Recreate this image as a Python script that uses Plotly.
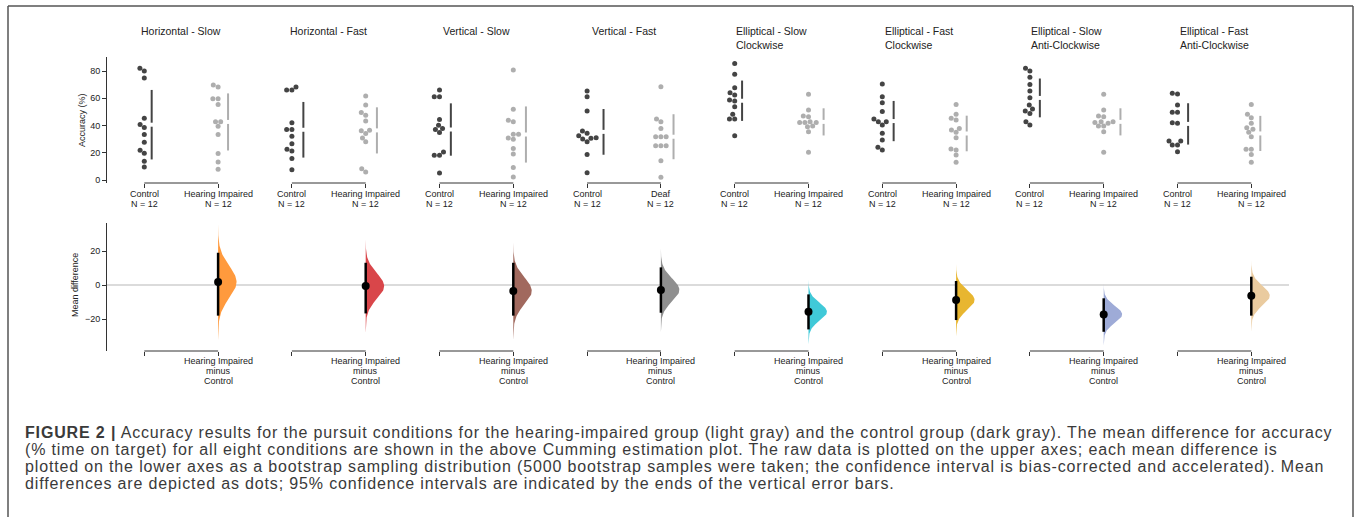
import numpy as np
import plotly.graph_objects as go

W, H = 1357, 527

# ---------------- data ----------------
conditions = ["Horizontal - Slow", "Horizontal - Fast", "Vertical - Slow", "Vertical - Fast",
              "Elliptical - Slow<br>Clockwise", "Elliptical - Fast<br>Clockwise",
              "Elliptical - Slow<br>Anti-Clockwise", "Elliptical - Fast<br>Anti-Clockwise"]
control_names = ["Control"] * 8
test_names = ["Hearing Impaired", "Hearing Impaired", "Hearing Impaired", "Deaf",
              "Hearing Impaired", "Hearing Impaired", "Hearing Impaired", "Hearing Impaired"]
contrast_names = ["Hearing Impaired"] * 8
n_control = [12] * 8
n_test = [12] * 8

control_hs = [82.0, 80.0, 74.8, 45.4, 40.7, 38.5, 33.4, 27.7, 21.8, 19.6, 13.7, 9.6]
impaired_hs = [69.7, 68.2, 59.6, 59.6, 55.5, 42.7, 42.7, 39.5, 33.4, 19.4, 13.3, 7.9]
control_hf = [68.3, 66.0, 66.0, 42.0, 37.1, 37.1, 32.1, 26.7, 22.6, 21.3, 15.7, 7.6]
impaired_hf = [61.6, 55.0, 49.6, 47.6, 43.4, 36.6, 36.1, 34.1, 30.9, 28.0, 8.3, 5.9]
control_vs = [66.0, 61.1, 61.1, 44.4, 40.2, 37.8, 37.1, 34.8, 20.6, 18.2, 18.2, 5.2]
impaired_vs = [80.7, 52.0, 43.9, 42.7, 33.6, 33.6, 30.9, 29.9, 23.1, 19.1, 9.1, 2.2]
control_vf = [65.3, 61.2, 50.6, 36.0, 34.3, 32.5, 31.1, 30.6, 30.1, 28.1, 18.8, 5.4]
deaf_vf = [68.5, 44.8, 42.8, 37.9, 31.8, 31.8, 31.8, 25.2, 25.2, 25.2, 14.2, 2.0]
control_esc = [85.6, 77.6, 67.8, 64.1, 62.4, 58.7, 58.0, 53.8, 48.2, 44.8, 44.8, 32.5]
impaired_esc = [62.9, 51.4, 47.0, 46.5, 42.8, 42.3, 42.3, 42.3, 39.6, 39.1, 35.5, 20.3]
control_efc = [70.5, 61.2, 56.8, 50.2, 44.8, 42.8, 42.8, 40.4, 34.3, 29.4, 24.0, 22.0]
impaired_efc = [55.5, 48.2, 45.3, 44.0, 37.9, 36.7, 35.0, 31.1, 22.8, 22.0, 18.3, 13.0]
control_esac = [82.0, 80.0, 75.4, 70.2, 65.3, 60.4, 55.0, 52.1, 50.6, 48.9, 42.8, 40.4]
impaired_esac = [62.9, 51.4, 47.0, 46.5, 42.8, 42.8, 42.3, 41.6, 39.6, 39.6, 35.5, 20.3]
control_efac = [63.6, 63.1, 55.0, 49.7, 49.7, 42.1, 41.6, 28.6, 28.6, 25.7, 25.7, 20.8]
impaired_efac = [55.5, 48.2, 45.7, 41.6, 38.4, 37.2, 35.0, 31.8, 22.5, 22.5, 18.8, 13.0]

mean_diff = [1.8, -0.6, -3.5, -2.9, -15.7, -8.8, -17.3, -6.3]
ci_low = [-18.0, -16.7, -18.0, -16.3, -26.1, -20.6, -27.5, -18.0]
ci_high = [19.0, 13.1, 13.1, 10.4, -5.5, 2.4, -7.8, 4.9]

top_yticks = [0, 20, 40, 60, 80]
bottom_yticks = [-20, 0, 20]

violin_colors = ["#FF9A3D", "#D9464A", "#A1695E", "#8F8F8F",
                 "#40C9D8", "#E8B630", "#9EABD7", "#EACB9F"]
control_color = "#444444"
test_color = "#AEAEAE"
axis_color = "#333333"
text_color = "#222222"
font_family = "Liberation Sans, Arial, sans-serif"

caption_lines = [
    "<b>FIGURE 2 |</b> Accuracy results for the pursuit conditions for the hearing-impaired group (light gray) and the control group (dark gray). The mean difference for accuracy",
    "(% time on target) for all eight conditions are shown in the above Cumming estimation plot. The raw data is plotted on the upper axes; each mean difference is",
    "plotted on the lower axes as a bootstrap sampling distribution (5000 bootstrap samples were taken; the confidence interval is bias-corrected and accelerated). Mean",
    "differences are depicted as dots; 95% confidence intervals are indicated by the ends of the vertical error bars.",
]

controls = [control_hs, control_hf, control_vs, control_vf, control_esc, control_efc, control_esac, control_efac]
tests = [impaired_hs, impaired_hf, impaired_vs, deaf_vf, impaired_esc, impaired_efc, impaired_esac, impaired_efac]

# ---------------- geometry ----------------
X0_PX = 144.3          # pixel position of x = 0
UNIT_PX = 73.8         # pixels per x unit
AX_LEFT, AX_RIGHT = 107, 1289
TOP_T, TOP_B = 57, 183
BOT_T, BOT_B = 223, 351
top_range = [-2.2, 90.3]
bot_range = [-38.8, 36.5]
x_range = [(AX_LEFT - X0_PX) / UNIT_PX, (AX_RIGHT - X0_PX) / UNIT_PX]
PXY_TOP = (TOP_B - TOP_T) / (top_range[1] - top_range[0])


def fx(px):
    return px / W


def fy(py):
    return 1 - py / H


def swarm_x(values, d=5.0):
    vals = np.asarray(values, float)
    order = np.argsort(vals, kind="stable")
    ys = vals * PXY_TOP
    placed = []
    xs = np.zeros(len(vals))
    for idx in order:
        y = ys[idx]
        neigh = [(px, py) for px, py in placed if abs(py - y) < d]
        cands = [0.0]
        for px, py in neigh:
            dx = np.sqrt(max(d * d - (y - py) ** 2, 0.0)) * 1.05
            cands += [px - dx, px + dx]
        cands.sort(key=abs)
        chosen = cands[0]
        for c in cands:
            if all((c - px) ** 2 + (y - py) ** 2 >= d * d * 0.999 for px, py in neigh):
                chosen = c
                break
        placed.append((chosen, y))
        xs[idx] = chosen
    return xs / UNIT_PX


fig = go.Figure()
annotations = []
small = dict(size=9, color=text_color, family=font_family)


def add_label_lines(lines, xval, xref, y_px_list):
    for txt, ypx in zip(lines, y_px_list):
        annotations.append(dict(text=txt, x=xval, xref=xref, y=fy(ypx), yref="paper",
                                xanchor="center", yanchor="middle", showarrow=False, font=small))


# ---------------- upper axes: raw data ----------------
tickvals_top = []
for i in range(8):
    for j, (vals, col, name, n) in enumerate([(controls[i], control_color, control_names[i], n_control[i]),
                                              (tests[i], test_color, test_names[i], n_test[i])]):
        pos = 2 * i + j
        offs = swarm_x(vals)
        fig.add_trace(go.Scatter(x=pos + offs, y=vals, mode="markers", xaxis="x", yaxis="y",
                                 marker=dict(size=5, color=col), showlegend=False, hoverinfo="y"))
        m = float(np.mean(vals))
        sd = float(np.std(vals, ddof=1))
        gap = 2.0 / PXY_TOP
        lx = pos + offs.max() + 0.1
        fig.add_trace(go.Scatter(x=[lx, lx, None, lx, lx], y=[m - sd, m - gap, None, m + gap, m + sd],
                                 mode="lines", line=dict(color=col, width=2), xaxis="x", yaxis="y",
                                 showlegend=False, hoverinfo="skip"))
        tickvals_top.append(pos)
        add_label_lines([name, f"N = {n}"], pos, "x", [194, 204])

# ---------------- lower axes: mean differences ----------------
tickvals_bot = []
for i in range(8):
    pos = 2 * i + 1
    mu = mean_diff[i]
    sigma = (ci_high[i] - ci_low[i]) / 3.92
    yy = np.linspace(mu - 3.6 * sigma, mu + 3.6 * sigma, 121)
    ww = 0.25 * np.exp(-0.5 * ((yy - mu) / sigma) ** 2)
    vx = np.concatenate([pos + ww, [pos, pos]])
    vy = np.concatenate([yy, [yy[-1], yy[0]]])
    fig.add_trace(go.Scatter(x=vx, y=vy, mode="lines", fill="toself", fillcolor=violin_colors[i],
                             line=dict(width=0, color=violin_colors[i]), xaxis="x2", yaxis="y2",
                             showlegend=False, hoverinfo="skip"))
    fig.add_trace(go.Scatter(x=[pos, pos], y=[ci_low[i], ci_high[i]], mode="lines",
                             line=dict(color="black", width=2.5), xaxis="x2", yaxis="y2",
                             showlegend=False, hoverinfo="skip"))
    fig.add_trace(go.Scatter(x=[pos], y=[mu], mode="markers", marker=dict(size=8, color="black"),
                             xaxis="x2", yaxis="y2", showlegend=False, hoverinfo="y"))
    tickvals_bot += [pos - 1, pos]
    add_label_lines([contrast_names[i], "minus", control_names[i]], pos, "x2", [361, 371, 381])

shapes = []
shapes.append(dict(type="line", xref="x2 domain", yref="y2", x0=0, x1=1, y0=0, y1=0,
                   line=dict(color="#CFCFCF", width=1.5), layer="below"))
for i in range(8):
    for xr, yr in [("x", "y domain"), ("x2", "y2 domain")]:
        shapes.append(dict(type="line", xref=xr, yref=yr, x0=2 * i, x1=2 * i + 1, y0=0, y1=0,
                           line=dict(color=axis_color, width=1)))
fl, fr, ft, fb = 8, 1353, 6, 517
for x0, y0, x1, y1 in [(fl, ft, fr, ft), (fl, ft, fl, fb), (fr, ft, fr, fb)]:
    shapes.append(dict(type="line", xref="paper", yref="paper", x0=fx(x0), y0=fy(y0), x1=fx(x1), y1=fy(y1),
                       line=dict(color="#555555", width=1.5)))

for i, cond in enumerate(conditions):
    annotations.append(dict(text=cond, x=2 * i + 0.5, xref="x", y=fy(23), yref="paper",
                            xanchor="center", yanchor="top", align="left", showarrow=False,
                            font=dict(size=10.5, color=text_color, family=font_family)))
annotations.append(dict(text="Accuracy (%)", x=fx(82), y=fy(120), xref="paper", yref="paper",
                        textangle=-90, showarrow=False, xanchor="center", yanchor="middle", font=small))
annotations.append(dict(text="Mean difference", x=fx(75), y=fy(285), xref="paper", yref="paper",
                        textangle=-90, showarrow=False, xanchor="center", yanchor="middle", font=small))
cap_y = [432, 449, 466, 483]
for line, cy in zip(caption_lines, cap_y):
    annotations.append(dict(text='<span style="letter-spacing:0.85px">' + line + "</span>",
                            x=fx(23), y=fy(cy), xref="paper", yref="paper",
                            xanchor="left", yanchor="middle", showarrow=False,
                            font=dict(size=16, color="#3a3a3a", family=font_family)))

common_x = dict(range=x_range, domain=[fx(AX_LEFT), fx(AX_RIGHT)], showline=False, showgrid=False,
                zeroline=False, ticks="outside", ticklen=4, tickcolor=axis_color, tickwidth=1,
                tickmode="array", showticklabels=False, automargin=False, fixedrange=True)
common_y = dict(showline=True, linecolor=axis_color, linewidth=1, showgrid=False, zeroline=False,
                ticks="outside", ticklen=4, tickcolor=axis_color, tickwidth=1, tickmode="array",
                tickfont=small, automargin=False, fixedrange=True)

fig.update_layout(
    width=W, height=H, autosize=False,
    margin=dict(l=0, r=0, t=0, b=0),
    paper_bgcolor="white", plot_bgcolor="rgba(0,0,0,0)",
    template="none",
    font=dict(family=font_family),
    xaxis=dict(common_x, tickvals=tickvals_top, anchor="y"),
    yaxis=dict(common_y, range=top_range, domain=[fy(TOP_B), fy(TOP_T)], tickvals=top_yticks, anchor="x"),
    xaxis2=dict(common_x, tickvals=tickvals_bot, anchor="y2"),
    yaxis2=dict(common_y, range=bot_range, domain=[fy(BOT_B), fy(BOT_T)], tickvals=bottom_yticks, anchor="x2"),
    shapes=shapes, annotations=annotations, showlegend=False,
)

fig.write_html("out.html", config={"displayModeBar": False}, post_script=[
    "document.body.style.margin='0px';document.body.style.padding='0px';"
    "document.documentElement.style.overflow='hidden';document.body.style.overflow='hidden';"
])
